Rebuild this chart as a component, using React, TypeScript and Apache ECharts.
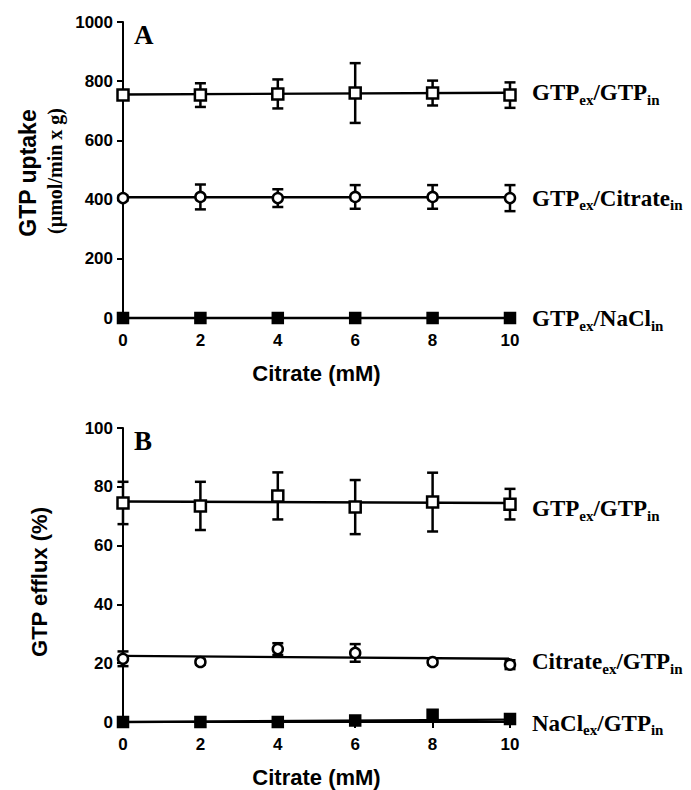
import React, { useEffect, useRef } from "react";
import * as echarts from "echarts";

// ---- data ----
const citrate = [0, 2, 4, 6, 8, 10];

// Panel A: GTP uptake (µmol/min x g)
const aGtpGtp = [753, 753, 757, 760, 760, 753];
const aGtpGtpSem = [8, 40, 49, 101, 42, 43];
const aGtpCit = [405, 409, 405, 409, 409, 405];
const aGtpCitSem = [8, 42, 30, 40, 40, 44];
const aGtpNacl = [0, 0, 0, 0, 0, 0];
const aGtpNaclSem = [0, 0, 0, 0, 0, 0];
const aFitGtpGtp = [755, 761];
const aFitGtpCit = [408, 408];
const aFitGtpNacl = [0, 0];

// Panel B: GTP efflux (%)
const bGtpGtp = [74.5, 73.5, 76.9, 73.1, 74.8, 74.1];
const bGtpGtpSem = [7.2, 8.2, 8, 9.2, 10, 5.2];
const bCitGtp = [21.5, 20.4, 24.8, 23.5, 20.4, 19.5];
const bCitGtpSem = [2.5, 0.8, 2, 3, 0.8, 1.5];
const bNaclGtp = [0, 0, 0, 0.5, 2.5, 1];
const bNaclGtpSem = [0.5, 0.5, 0.5, 0.5, 1.5, 0.8];
const bFitGtpGtp = [75, 74.5];
const bFitCitGtp = [22.5, 21.5];
const bFitNaclGtp = [0, 0.8];

const fitX = [0, 10];

const xTicks = { min: 0, max: 10, interval: 2 };
const aY = { min: 0, max: 1000, interval: 200 };
const bY = { min: 0, max: 100, interval: 20 };

const SANS = "'Liberation Sans', Arial, sans-serif";
const SERIF = "'Liberation Serif', 'Times New Roman', serif";

const subLabel = (a: string, b: string, c: string, d: string) =>
  `{m|${a}}{s|${b}}{m|/${c}}{s|${d}}`;

const rich = {
  m: {
    fontFamily: SERIF,
    fontWeight: "bold",
    fontSize: 23,
    color: "#000",
    verticalAlign: "top",
  },
  s: {
    fontFamily: SERIF,
    fontWeight: "bold",
    fontSize: 15,
    color: "#000",
    verticalAlign: "top",
    padding: [11, 0, 0, 0],
  },
};

export default function App() {
  const ref = useRef<HTMLDivElement>(null);
  useEffect(() => {
    document.body.style.margin = "0";
    const chart = echarts.init(ref.current!, null, { renderer: "svg" });

    const axisLine = { show: true, lineStyle: { color: "#000", width: 2 } };
    const axisTick = { show: true, inside: false, length: 6, lineStyle: { color: "#000", width: 2 } };
    const tickLabel = (margin: number) => ({
      color: "#000",
      fontFamily: SANS,
      fontWeight: "bold",
      fontSize: 17,
      margin,
      formatter: (v: number) => String(v),
    });

    const xAxis = (gridIndex: number) => ({
      type: "value",
      gridIndex,
      ...xTicks,
      axisLine,
      axisTick,
      splitLine: { show: false },
      axisLabel: tickLabel(14),
      name: "Citrate (mM)",
      nameLocation: "middle",
      nameGap: 44,
      nameTextStyle: { color: "#000", fontFamily: SANS, fontWeight: "bold", fontSize: 22 },
    });
    const yAxis = (gridIndex: number, r: any) => ({
      type: "value",
      gridIndex,
      ...r,
      axisLine,
      axisTick,
      splitLine: { show: false },
      axisLabel: tickLabel(10),
    });

    const errSeries = (idx: number, ys: number[], sem: number[]) => ({
      type: "custom",
      xAxisIndex: idx,
      yAxisIndex: idx,
      clip: false,
      z: 3,
      data: citrate.map((x, i) => [x, ys[i] - sem[i], ys[i] + sem[i]]),
      renderItem: (params: any, api: any) => {
        const lo = api.coord([api.value(0), api.value(1)]);
        const hi = api.coord([api.value(0), api.value(2)]);
        const w = 5.5;
        const st = { stroke: "#000", lineWidth: 2.5 };
        return {
          type: "group",
          children: [
            { type: "line", shape: { x1: lo[0], y1: lo[1], x2: hi[0], y2: hi[1] }, style: st },
            { type: "line", shape: { x1: hi[0] - w, y1: hi[1], x2: hi[0] + w, y2: hi[1] }, style: st },
            { type: "line", shape: { x1: lo[0] - w, y1: lo[1], x2: lo[0] + w, y2: lo[1] }, style: st },
          ],
        };
      },
    });

    const points = (idx: number, ys: number[], symbol: string, filled: boolean, size: number) => ({
      type: "scatter",
      xAxisIndex: idx,
      yAxisIndex: idx,
      clip: false,
      z: 5,
      symbol,
      symbolSize: size,
      itemStyle: {
        color: filled ? "#000" : "#fff",
        borderColor: "#000",
        borderWidth: 2.5,
        opacity: 1,
      },
      data: citrate.map((x, i) => [x, ys[i]]),
    });

    const fit = (idx: number, ys: number[], label: string, offsetY: number) => ({
      type: "line",
      xAxisIndex: idx,
      yAxisIndex: idx,
      clip: false,
      z: 2,
      showSymbol: false,
      symbol: "none",
      lineStyle: { color: "#000", width: 2.4 },
      data: fitX.map((x, i) => [x, ys[i]]),
      endLabel: {
        show: true,
        formatter: label,
        distance: 22,
        offset: [0, offsetY],
        rich,
      },
    });

    chart.setOption({
      animation: false,
      backgroundColor: "#fff",
      grid: [
        { left: 123, top: 22, width: 387, height: 296, containLabel: false },
        { left: 123, top: 428, width: 387, height: 294, containLabel: false },
      ],
      xAxis: [xAxis(0), xAxis(1)],
      yAxis: [yAxis(0, aY), yAxis(1, bY)],
      graphic: [
        {
          type: "text",
          x: 134,
          y: 35,
          style: { text: "A", font: `bold 27px ${SERIF}`, fill: "#000", align: "left", verticalAlign: "middle" },
        },
        {
          type: "text",
          x: 134,
          y: 441,
          style: { text: "B", font: `bold 27px ${SERIF}`, fill: "#000", align: "left", verticalAlign: "middle" },
        },
        {
          type: "text",
          x: 28,
          y: 173,
          rotation: Math.PI / 2,
          style: { text: "GTP uptake", font: `bold 23px ${SANS}`, fill: "#000", align: "center", verticalAlign: "middle" },
        },
        {
          type: "text",
          x: 55,
          y: 171,
          rotation: Math.PI / 2,
          style: { text: "(µmol/min x g)", font: `bold 20px ${SERIF}`, fill: "#000", align: "center", verticalAlign: "middle" },
        },
        {
          type: "text",
          x: 39,
          y: 582,
          rotation: Math.PI / 2,
          style: { text: "GTP efflux (%)", font: `bold 22px ${SANS}`, fill: "#000", align: "center", verticalAlign: "middle" },
        },
      ],
      series: [
        fit(0, aFitGtpGtp, subLabel("GTP", "ex", "GTP", "in"), 1.5),
        fit(0, aFitGtpCit, subLabel("GTP", "ex", "Citrate", "in"), 2.5),
        fit(0, aFitGtpNacl, subLabel("GTP", "ex", "NaCl", "in"), 2),
        errSeries(0, aGtpGtp, aGtpGtpSem),
        errSeries(0, aGtpCit, aGtpCitSem),
        errSeries(0, aGtpNacl, aGtpNaclSem),
        points(0, aGtpGtp, "rect", false, 11),
        points(0, aGtpCit, "circle", false, 10),
        points(0, aGtpNacl, "rect", true, 10),

        fit(1, bFitGtpGtp, subLabel("GTP", "ex", "GTP", "in"), 7.5),
        fit(1, bFitCitGtp, subLabel("Citrate", "ex", "GTP", "in"), 4.5),
        fit(1, bFitNaclGtp, subLabel("NaCl", "ex", "GTP", "in"), 5),
        errSeries(1, bGtpGtp, bGtpGtpSem),
        errSeries(1, bCitGtp, bCitGtpSem),
        errSeries(1, bNaclGtp, bNaclGtpSem),
        points(1, bGtpGtp, "rect", false, 11),
        points(1, bCitGtp, "circle", false, 10),
        points(1, bNaclGtp, "rect", true, 10),
      ],
    });
    return () => chart.dispose();
  }, []);
  return <div ref={ref} style={{ width: 691, height: 790 }} />;
}
